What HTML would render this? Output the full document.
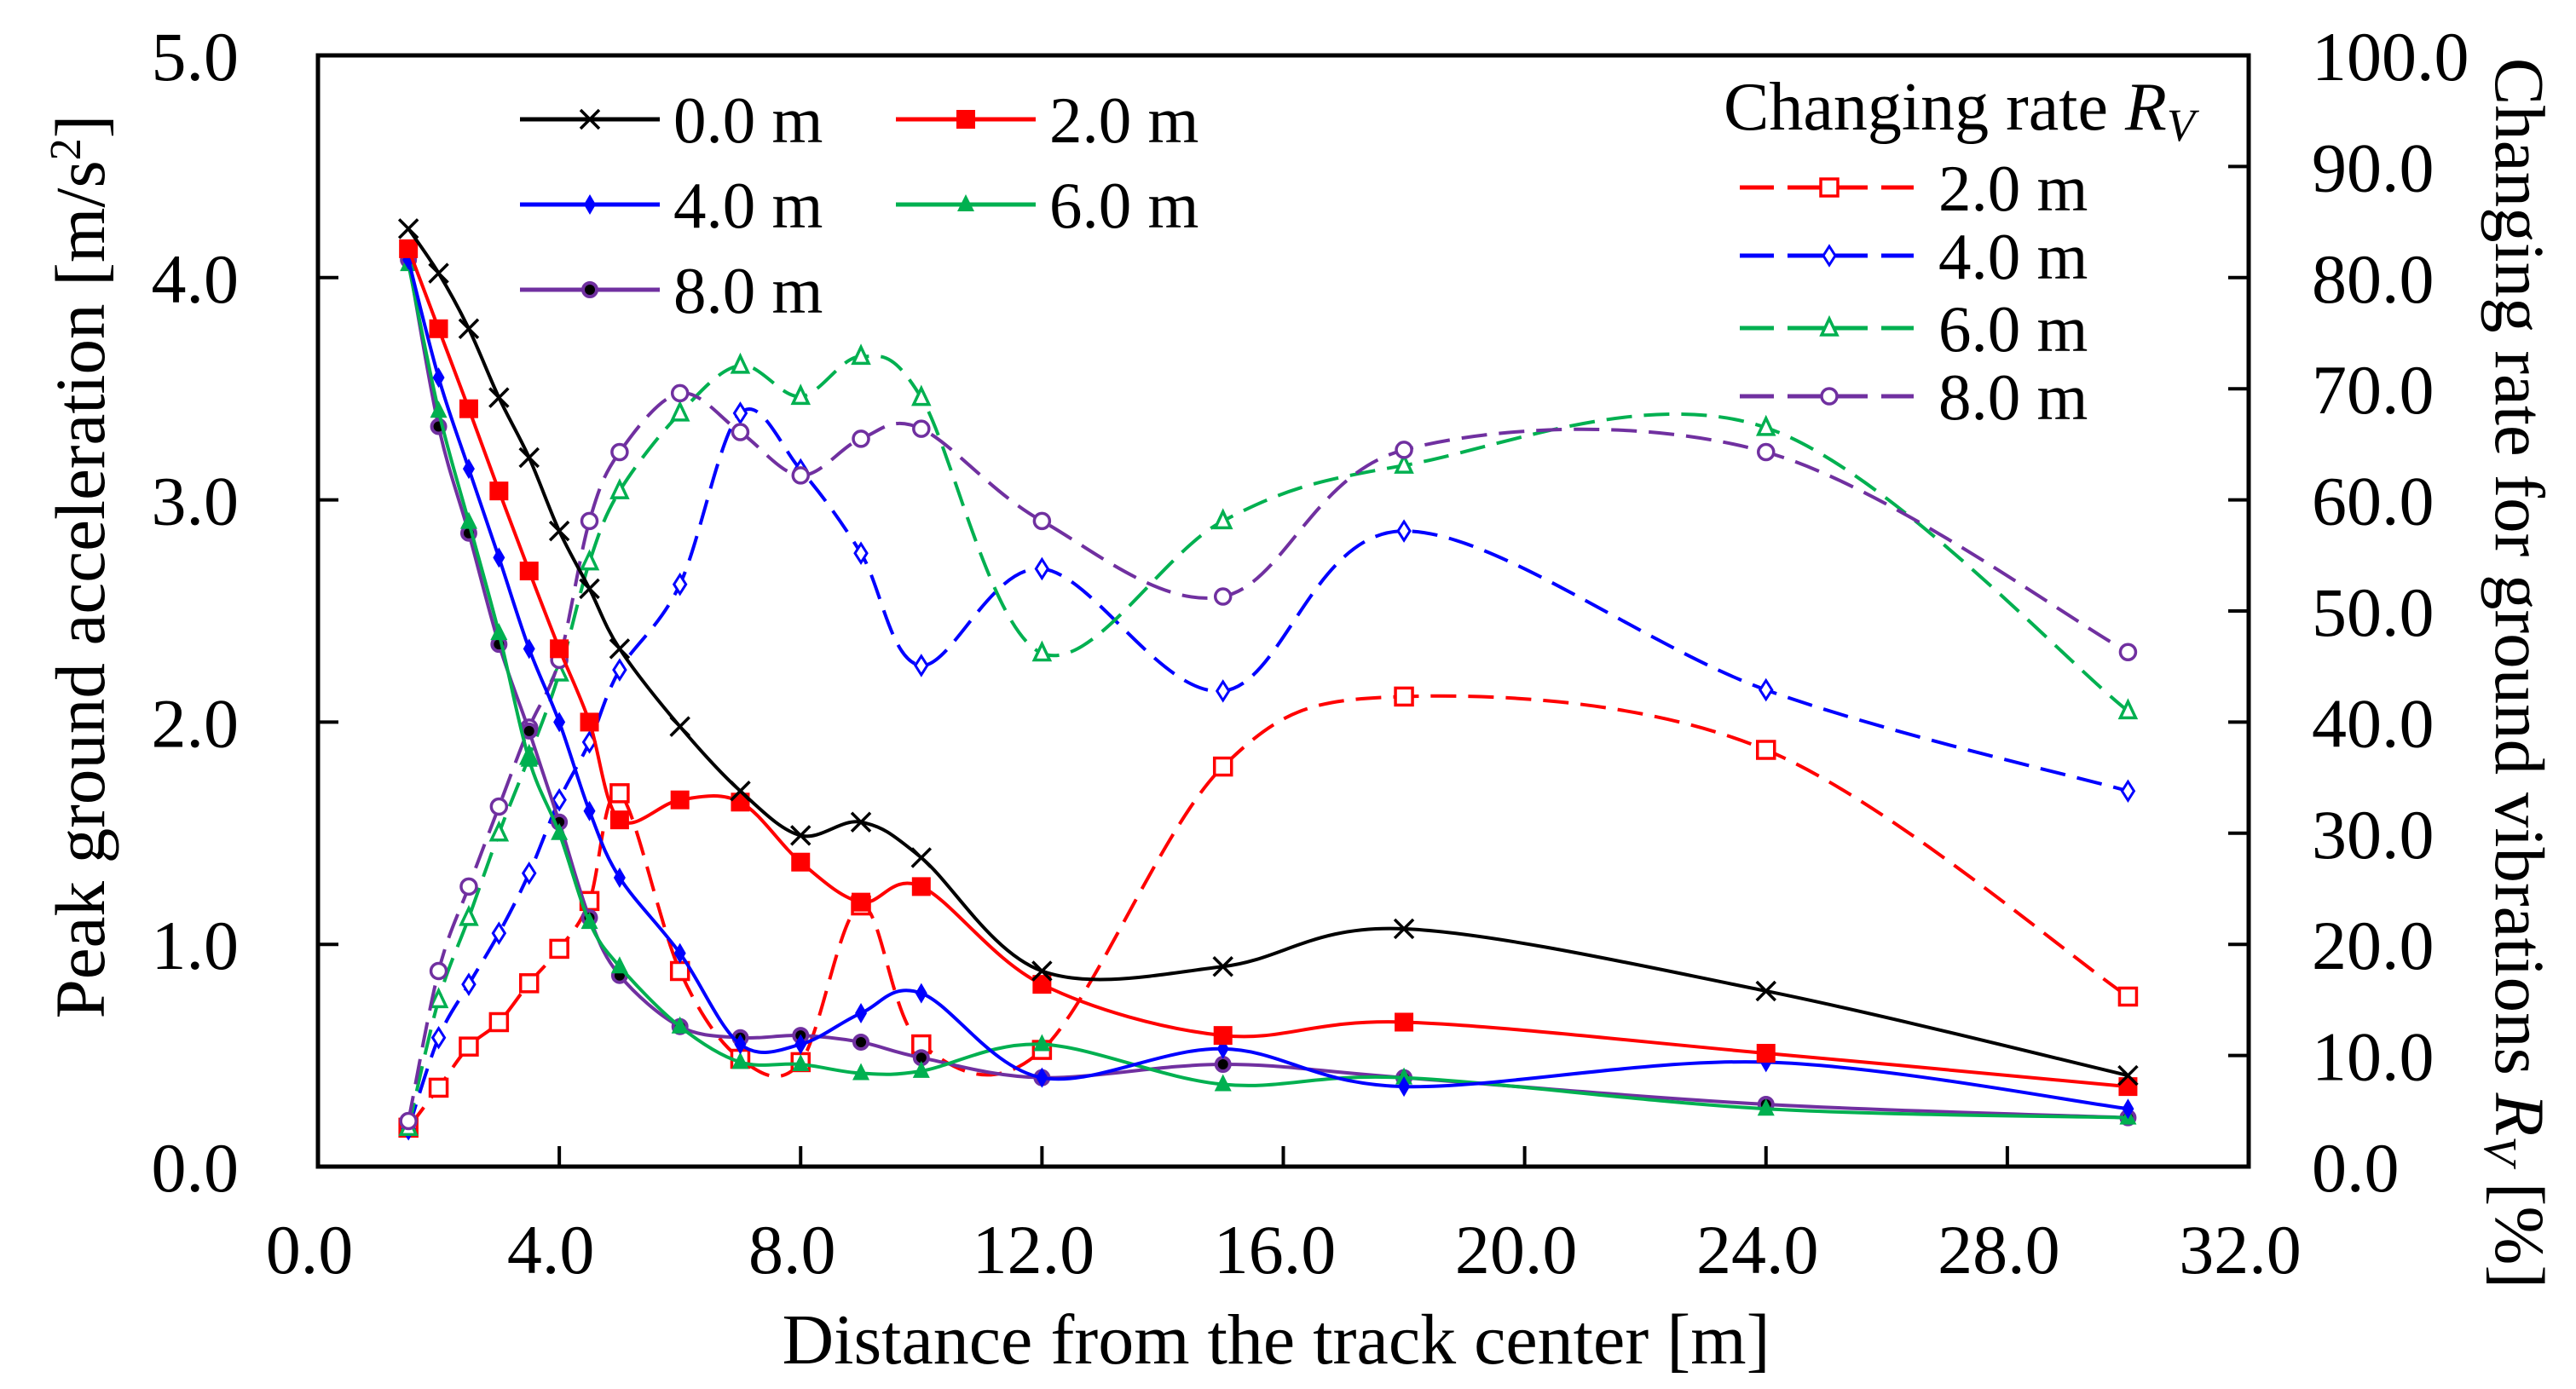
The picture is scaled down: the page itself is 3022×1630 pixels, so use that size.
<!DOCTYPE html>
<html><head><meta charset="utf-8">
<style>
html,body{margin:0;padding:0;background:#fff;}
svg{display:block;font-family:"Liberation Serif","Times New Roman",serif;}
</style></head>
<body>
<svg id="chart" width="3022" height="1630" viewBox="0 0 3022 1630" xmlns="http://www.w3.org/2000/svg">
  <rect x="0" y="0" width="3022" height="1630" fill="#fff"/>
  <g id="series"></g>
  <g id="axes"></g>
  <text transform="translate(122,665) rotate(-90)" text-anchor="middle" font-size="83">Peak ground acceleration [m/s<tspan baseline-shift="super" font-size="52">2</tspan>]</text>
  <text transform="translate(2928,790) rotate(90)" text-anchor="middle" font-size="83">Changing rate for ground vibrations <tspan font-style="italic">R</tspan><tspan font-style="italic" font-size="55" dy="13">V</tspan><tspan dy="-13"> [%]</tspan></text>
  <text x="1497" y="1600" text-anchor="middle" font-size="84">Distance from the track center [m]</text>
  <g id="legend"></g>
</svg>
<script>
const distances = [1.5,2,2.5,3,3.5,4,4.5,5,6,7,8,9,10,12,15,18,24,30];
const pga0 = [4.22,4.02,3.77,3.46,3.19,2.86,2.6,2.33,1.98,1.69,1.49,1.55,1.39,0.88,0.9,1.07,0.79,0.41];
const pga2 = [4.13,3.77,3.41,3.04,2.68,2.33,2.0,1.56,1.65,1.64,1.37,1.19,1.26,0.82,0.59,0.65,0.51,0.36];
const pga4 = [4.08,3.55,3.14,2.74,2.33,2.0,1.6,1.3,0.96,0.55,0.55,0.69,0.78,0.4,0.53,0.36,0.47,0.26];
const pga6 = [4.06,3.4,2.9,2.4,1.83,1.5,1.1,0.9,0.63,0.47,0.46,0.42,0.43,0.55,0.37,0.4,0.26,0.22];
const pga8 = [4.08,3.33,2.85,2.35,1.96,1.55,1.12,0.86,0.63,0.58,0.59,0.56,0.49,0.4,0.46,0.4,0.28,0.22];
const rate2 = [3.5,7.1,10.8,13,16.5,19.6,23.9,33.6,17.6,9.7,9.4,23.5,11,10.5,36,42.3,37.5,15.3];
const rate4 = [3.4,11.6,16.4,21,26.4,33,38.2,44.7,52.4,67.8,62.7,55.2,45.1,53.8,42.8,57.2,42.9,33.8];
const rate6 = [3.5,15,22.4,30,36.9,44.4,54.4,60.8,67.8,72.1,69.3,72.9,69.2,46.2,58.1,63.1,66.5,41];
const rate8 = [4.1,17.6,25.2,32.4,39.5,45.6,58.1,64.3,69.6,66.1,62.2,65.5,66.4,58.1,51.3,64.5,64.3,46.3];
const xTicks = ["0.0","4.0","8.0","12.0","16.0","20.0","24.0","28.0","32.0"];
const yLeftTicks = ["0.0","1.0","2.0","3.0","4.0","5.0"];
const yRightTicks = ["0.0","10.0","20.0","30.0","40.0","50.0","60.0","70.0","80.0","90.0","100.0"];

const NS="http://www.w3.org/2000/svg";
const L=373,R=2638,T=65,B=1369;
const xs=v=>L+(v/32)*(R-L);
const yl=v=>B-(v/5)*(B-T);
const yr=v=>B-(v/100)*(B-T);
function mk(tag,attrs,parent){const e=document.createElementNS(NS,tag);for(const k in attrs)e.setAttribute(k,attrs[k]);parent.appendChild(e);return e;}
function spline(pts){
  let d=`M${pts[0][0]},${pts[0][1]}`;
  for(let i=0;i<pts.length-1;i++){
    const p0=pts[Math.max(i-1,0)],p1=pts[i],p2=pts[i+1],p3=pts[Math.min(i+2,pts.length-1)];
    const t=1/6;
    const c1=[p1[0]+(p2[0]-p0[0])*t,p1[1]+(p2[1]-p0[1])*t];
    const c2=[p2[0]-(p3[0]-p1[0])*t,p2[1]-(p3[1]-p1[1])*t];
    d+=` C${c1[0]},${c1[1]} ${c2[0]},${c2[1]} ${p2[0]},${p2[1]}`;
  }
  return d;
}
function marker(g,type,x,y,color){
  let e;
  if(type==='x'){e=mk('path',{d:`M${x-11},${y-11}L${x+11},${y+11}M${x-11},${y+11}L${x+11},${y-11}`,stroke:color,'stroke-width':3.5,fill:'none'},g);}
  else if(type==='sq'){e=mk('rect',{x:x-11,y:y-11,width:22,height:22,fill:color},g);}
  else if(type==='dia'){e=mk('path',{d:`M${x},${y-12}L${x+7},${y}L${x},${y+12}L${x-7},${y}Z`,fill:color},g);}
  else if(type==='tri'){e=mk('path',{d:`M${x},${y-12}L${x+10},${y+8}L${x-10},${y+8}Z`,fill:color},g);}
  else if(type==='circ'){e=mk('circle',{cx:x,cy:y,r:8,fill:'#000',stroke:color,'stroke-width':4},g);}
  else if(type==='osq'){e=mk('rect',{x:x-10,y:y-10,width:20,height:20,fill:'#fff',stroke:color,'stroke-width':3.5},g);}
  else if(type==='odia'){e=mk('path',{d:`M${x},${y-11}L${x+7},${y}L${x},${y+11}L${x-7},${y}Z`,fill:'#fff',stroke:color,'stroke-width':3},g);}
  else if(type==='otri'){e=mk('path',{d:`M${x},${y-11}L${x+9},${y+8}L${x-9},${y+8}Z`,fill:'#fff',stroke:color,'stroke-width':3.5},g);}
  else {e=mk('circle',{cx:x,cy:y,r:9,fill:'#fff',stroke:color,'stroke-width':3.5},g);}
  
  
}
const seriesDefs=[
  {name:'rate-2m',vals:rate2,scale:yr,color:'#ff0000',m:'osq',dash:true},
  {name:'rate-4m',vals:rate4,scale:yr,color:'#0000ff',m:'odia',dash:true},
  {name:'rate-6m',vals:rate6,scale:yr,color:'#00b050',m:'otri',dash:true},
  {name:'rate-8m',vals:rate8,scale:yr,color:'#7030a0',m:'ocirc',dash:true},
  {name:'pga-8m',vals:pga8,scale:yl,color:'#7030a0',m:'circ'},
  {name:'pga-6m',vals:pga6,scale:yl,color:'#00b050',m:'tri'},
  {name:'pga-4m',vals:pga4,scale:yl,color:'#0000ff',m:'dia'},
  {name:'pga-2m',vals:pga2,scale:yl,color:'#ff0000',m:'sq'},
  {name:'pga-0m',vals:pga0,scale:yl,color:'#000000',m:'x'}
];
const sg=document.getElementById('series');
seriesDefs.forEach(s=>{
  const g=mk('g',{},sg);
  
  
  const pts=distances.map((d,i)=>[xs(d),s.scale(s.vals[i])]);
  const p=mk('path',{d:spline(pts),fill:'none',stroke:s.color,'stroke-width':4},g);
  if(s.dash)p.setAttribute('stroke-dasharray','30 14');
  
  
  pts.forEach(pt=>marker(g,s.m,pt[0],pt[1],s.color));
});
const ag=document.getElementById('axes');
const frame=mk('rect',{x:L,y:T,width:R-L,height:B-T,fill:'none',stroke:'#000','stroke-width':5},ag);


xTicks.forEach((t,i)=>{
  const v=parseFloat(t),x=xs(v);
  if(i>0&&i<xTicks.length-1){const tk=mk('line',{x1:x,y1:B,x2:x,y2:B-24,stroke:'#000','stroke-width':4},ag);
    
    }
  const tx=mk('text',{x:x-10,y:1494,'text-anchor':'middle','font-size':82},ag);
  tx.textContent=t;
  
  
});
yLeftTicks.forEach((t,i)=>{
  const y=yl(parseFloat(t));
  if(i>0&&i<yLeftTicks.length-1){const tk=mk('line',{x1:L,y1:y,x2:L+24,y2:y,stroke:'#000','stroke-width':4},ag);
    
    }
  const tx=mk('text',{x:280,y:y+29,'text-anchor':'end','font-size':82},ag);
  tx.textContent=t;
  
  
});
yRightTicks.forEach((t,i)=>{
  const y=yr(parseFloat(t));
  if(i>0&&i<yRightTicks.length-1){const tk=mk('line',{x1:R,y1:y,x2:R-24,y2:y,stroke:'#000','stroke-width':4},ag);
    
    }
  const tx=mk('text',{x:2712,y:y+29,'text-anchor':'start','font-size':82},ag);
  tx.textContent=t;
  
  
});
const lg=document.getElementById('legend');
const leftLegend=[
  {label:'0.0 m',color:'#000',m:'x',x1:610,x2:774,tx:790,y:140},
  {label:'2.0 m',color:'#ff0000',m:'sq',x1:1051,x2:1215,tx:1231,y:140},
  {label:'4.0 m',color:'#0000ff',m:'dia',x1:610,x2:774,tx:790,y:240},
  {label:'6.0 m',color:'#00b050',m:'tri',x1:1051,x2:1215,tx:1231,y:240},
  {label:'8.0 m',color:'#7030a0',m:'circ',x1:610,x2:774,tx:790,y:340}
];
const rightLegend=[
  {label:'2.0 m',color:'#ff0000',m:'osq',y:220},
  {label:'4.0 m',color:'#0000ff',m:'odia',y:300},
  {label:'6.0 m',color:'#00b050',m:'otri',y:385},
  {label:'8.0 m',color:'#7030a0',m:'ocirc',y:465}
];
leftLegend.forEach(e=>{
  const g=mk('g',{},lg);
  
  
  mk('line',{x1:e.x1,y1:e.y,x2:e.x2,y2:e.y,stroke:e.color,'stroke-width':5},g);
  marker(g,e.m,(e.x1+e.x2)/2,e.y,e.color);
  const t=mk('text',{x:e.tx,y:e.y+27,'font-size':77},g);t.textContent=e.label;
});
const title=mk('text',{x:2022,y:152,'font-size':80},lg);
title.innerHTML='Changing rate <tspan font-style="italic">R</tspan><tspan font-style="italic" font-size="54" dy="13">V</tspan>';


rightLegend.forEach(e=>{
  const g=mk('g',{},lg);
  
  
  mk('line',{x1:2041,y1:e.y,x2:2245,y2:e.y,stroke:e.color,'stroke-width':5,'stroke-dasharray':'40 16 94 16 40'},g);
  marker(g,e.m,2146,e.y,e.color);
  const t=mk('text',{x:2274,y:e.y+27,'font-size':77},g);t.textContent=e.label;
});
</script>
</body></html>
